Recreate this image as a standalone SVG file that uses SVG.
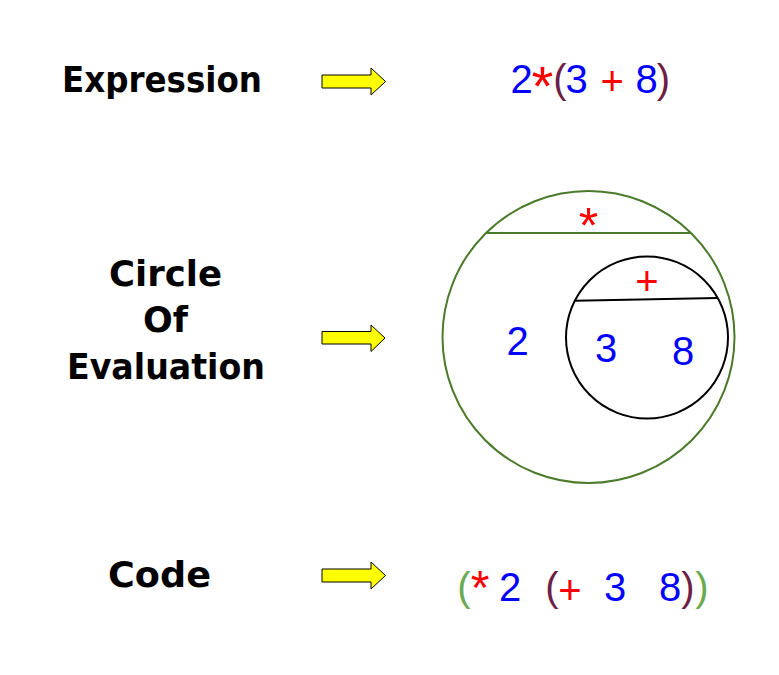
<svg xmlns="http://www.w3.org/2000/svg" width="779" height="675" viewBox="0 0 779 675">
<style>
.lbl{font-family:"DejaVu Sans","Liberation Sans",sans-serif;font-weight:bold;font-size:35px;fill:#000}
.t{font-family:"Liberation Sans",Arial,sans-serif;font-size:40px;text-anchor:middle}
.b{fill:#0000FF}.r{fill:#FF0000}.p{fill:#6E1E46}.g{fill:#6AAA50}
.arr{fill:#FFFF00;stroke:#000;stroke-width:1}
</style>
<rect width="779" height="675" fill="#fff"/>
<g id="label-expression"><text class="lbl" x="62" y="92" textLength="200" lengthAdjust="spacingAndGlyphs">Expression</text></g>
<g id="label-circle"><text class="lbl" x="109" y="286" textLength="113" lengthAdjust="spacingAndGlyphs">Circle</text>
<text class="lbl" x="143" y="332" textLength="45" lengthAdjust="spacingAndGlyphs">Of</text>
<text class="lbl" x="67" y="379" textLength="198" lengthAdjust="spacingAndGlyphs">Evaluation</text></g>
<g id="label-code"><text class="lbl" x="108" y="587" textLength="103" lengthAdjust="spacingAndGlyphs">Code</text></g>
<g id="connectors">
<polygon class="arr" points="322,75 371,75 371,68 385.5,81.5 371,95 371,88 322,88"/>
<polygon class="arr" points="322,331.5 371,331.5 371,325 385,338 371,351.5 371,344 322,344"/>
<polygon class="arr" points="322,569 371,569 371,562 385.5,575.5 371,589 371,582 322,582"/>
</g>
<g id="expression">
<text class="t b" x="521.7" y="93">2</text>
<text class="t r" x="542.3" y="105" style="font-size:56px">*</text>
<text class="t p" x="560" y="93">(</text>
<text class="t b" x="576.7" y="93">3</text>
<text class="t r" x="612.3" y="95">+</text>
<text class="t b" x="646.7" y="93">8</text>
<text class="t p" x="663.3" y="93">)</text>
</g>
<g id="circle-outer">
<circle cx="588.5" cy="337" r="146" fill="none" stroke="#4A7A2A" stroke-width="2"/>
<line x1="486" y1="233" x2="691" y2="233" stroke="#4A7A2A" stroke-width="2"/>
<text class="t r" x="588.5" y="243" style="font-size:50px">*</text>
<text class="t b" x="517.5" y="355">2</text>
</g>
<g id="circle-inner">
<circle cx="647" cy="337.5" r="81" fill="none" stroke="#000" stroke-width="2"/>
<line x1="575" y1="300.7" x2="717.5" y2="298" stroke="#000" stroke-width="2"/>
<text class="t r" x="647" y="295">+</text>
<text class="t b" x="606" y="361.5">3</text>
<text class="t b" x="683" y="365">8</text>
</g>
<g id="code">
<text class="t g" x="464" y="601">(</text>
<text class="t r" x="480" y="604" style="font-size:48px">*</text>
<text class="t b" x="510" y="601">2</text>
<text class="t p" x="552" y="601">(</text>
<text class="t r" x="570" y="604">+</text>
<text class="t b" x="615" y="601">3</text>
<text class="t b" x="670" y="601">8</text>
<text class="t p" x="688" y="601">)</text>
<text class="t g" x="702" y="601">)</text>
</g>
</svg>
